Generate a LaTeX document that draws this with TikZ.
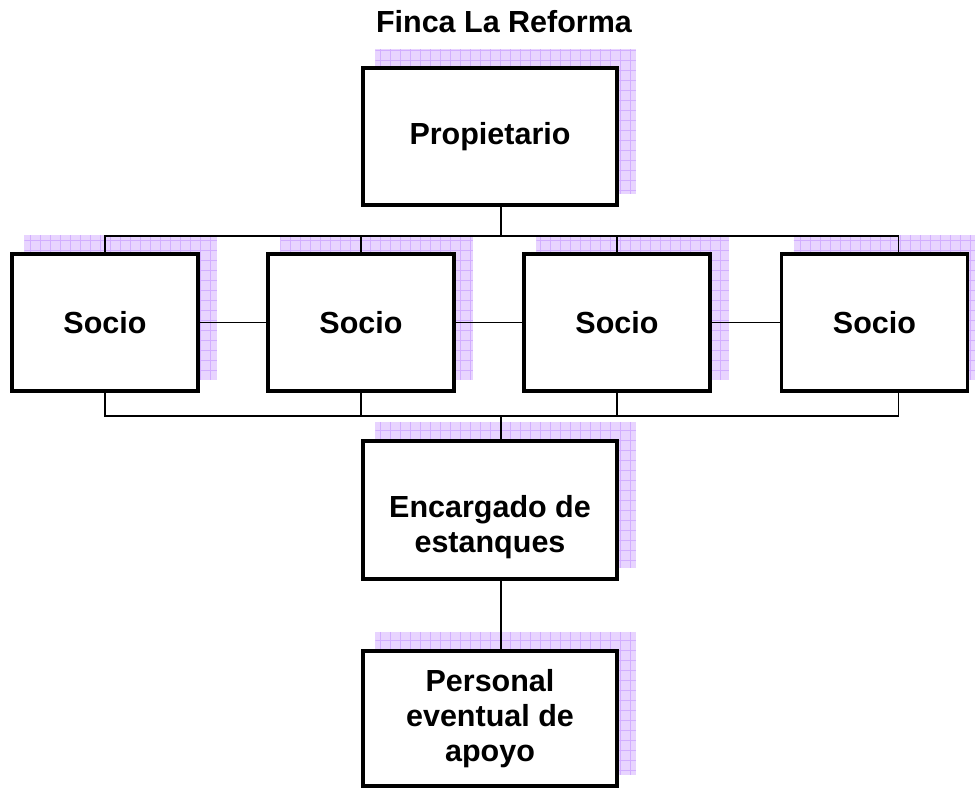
\documentclass[tikz,border=0pt]{standalone}
\usepackage{fontspec}
\setmainfont{Liberation Sans}
\usetikzlibrary{backgrounds}
\definecolor{shadefill}{HTML}{E8D4FF}
\definecolor{shadegrid}{HTML}{D2AEFF}
\tikzset{
  orgbox/.style={draw=black, line width=3.5pt, fill=white, rectangle,
    minimum width=254pt, minimum height=137pt, inner sep=2pt,
    font=\fontsize{30.5}{35}\selectfont\bfseries, align=center},
  sociobox/.style={orgbox, minimum width=186pt},
  conn/.style={draw=black, line width=1.7pt},
  titletext/.style={font=\fontsize{30.5}{35}\selectfont\bfseries},
}
\newcommand{\shadowof}[1]{%
  \begin{scope}
    \path ([xshift=14pt,yshift=17pt]#1.north west) coordinate (sha)
          ([xshift=17pt,yshift=13pt]#1.south east) coordinate (shb);
    \fill[shadefill] (sha) rectangle (shb);
    \clip (sha) rectangle (shb);
    \draw[shadegrid, line width=0.5pt, step=10pt] ([xshift=-20pt,yshift=20pt]sha) grid ([xshift=20pt,yshift=-20pt]shb);
  \end{scope}}
\begin{document}
\begin{tikzpicture}[x=1pt,y=-1pt]
\useasboundingbox (0,0) rectangle (975,789);
\node[titletext, anchor=base] (title) at (504,33) {Finca La Reforma};
\node[orgbox] (prop) at (490,136.5) {Propietario};
\node[sociobox] (s1) at (105,322.5) {Socio};
\node[sociobox] (s2) at (361,322.5) {Socio};
\node[sociobox] (s3) at (617,322.5) {Socio};
\node[sociobox] (s4) at (874.5,322.5) {Socio};
\node[orgbox, minimum height=138pt] (enc) at (490,510) {\rule{0pt}{56pt}Encargado de\\estanques};
\node[orgbox, minimum height=135pt] (pers) at (490,718.5) {Personal\\eventual de\\apoyo};
\begin{scope}[on background layer]
  \shadowof{prop}
  \shadowof{s1}
  \shadowof{s2}
  \shadowof{s3}
  \shadowof{s4}
  \shadowof{enc}
  \shadowof{pers}
\end{scope}
\coordinate (tb) at (501,236);
\coordinate (bb) at (501,416);
\coordinate (s4t) at ([xshift=24pt]s4.north);
\coordinate (s4b) at ([xshift=24pt]s4.south);
\begin{scope}[on background layer]
\draw[conn] (prop.south -| tb) -- (tb);
\draw[conn] (s1.north) -- (s1.north |- tb) -- (s4t |- tb) -- (s4t);
\draw[conn] (s2.north) -- (s2.north |- tb);
\draw[conn] (s3.north) -- (s3.north |- tb);
\draw[conn] (s1.east) -- (s2.west);
\draw[conn] (s2.east) -- (s3.west);
\draw[conn] (s3.east) -- (s4.west);
\draw[conn] (s1.south) -- (s1.south |- bb) -- (s4b |- bb) -- (s4b);
\draw[conn] (s2.south) -- (s2.south |- bb);
\draw[conn] (s3.south) -- (s3.south |- bb);
\draw[conn] (bb) -- (enc.north -| bb);
\draw[conn] (enc.south -| bb) -- (pers.north -| bb);
\end{scope}
\end{tikzpicture}
\end{document}
